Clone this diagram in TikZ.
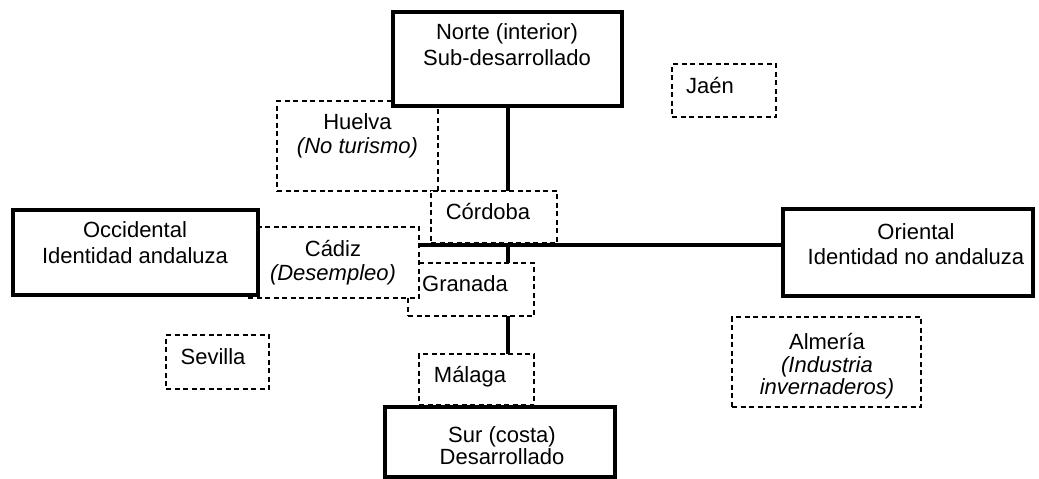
\documentclass[tikz,border=0pt]{standalone}
\usepackage{fontspec}
\setmainfont{Liberation Sans}
\usetikzlibrary{fit}
\pgfdeclarelayer{bg}
\pgfsetlayers{bg,main}
% stacked lines whose reference point is the first baseline
\newcommand{\stk}[1]{\begin{tabular}[t]{@{}c@{}}#1\end{tabular}}
\tikzset{
  region/.style={draw, line width=4pt, fill=white, inner sep=0pt},
  province/.style={draw, line width=1.4pt, dash pattern=on 5pt off 3.5pt, fill=white, inner sep=0pt},
  axis/.style={line width=4pt},
  txt/.style={font=\fontsize{22}{#1}\selectfont, anchor=base, inner sep=0pt},
  txt/.default=25
}
\begin{document}
\begin{tikzpicture}[x=1pt, y=-1pt]
\useasboundingbox (0,0) rectangle (1039,479);

% provinces (dashed boxes), later ones overlap earlier ones
\node[province, fit={(277,101) (438,191)}] (huelva) {};
\node[province, fit={(431,191) (557,243)}] (cordoba) {};
\node[province, fit={(408,263) (534,316)}] (granada) {};
\node[province, fit={(248,227) (419,298)}] (cadiz) {};
\node[province, fit={(419,354) (534,405)}] (malaga) {};
\node[province, fit={(672,64) (776,117)}] (jaen) {};
\node[province, fit={(166,335) (269,389)}] (sevilla) {};
\node[province, fit={(732,317) (921,407)}] (almeria) {};

% regions (thick boxes)
\node[region, fit={(393,12) (622,106)}] (norte) {};
\node[region, fit={(13,210) (258,295)}] (occ) {};
\node[region, fit={(783,209) (1033,296)}] (ori) {};
\node[region, fit={(385,407) (615,477)}] (sur) {};

% axes of the cross, behind every box
\coordinate (hub) at (507.5,245);
\begin{pgfonlayer}{bg}
\draw[axis] (norte.south) -- (norte.south |- sur.north);
\draw[axis] (occ.east |- hub) -- (ori.west |- hub);
\end{pgfonlayer}

% labels
\node[txt=26] (norte-t) at (507,39) {\stk{Norte (interior)\\Sub-desarrollado}};
\node[txt=26] (occ-t) at (135,237) {\stk{Occidental\\Identidad andaluza}};
\node[txt=25] (ori-t) at (916,239.5) {\stk{Oriental\\Identidad no andaluza}};
\node[txt=22] (sur-t) at (502,442) {\stk{Sur (costa)\\Desarrollado}};
\node[txt=24] (huelva-t) at (357.5,129) {\stk{Huelva\\\textit{(No turismo)}}};
\node[txt] (jaen-t) at (710,93) {Jaén};
\node[txt] (cordoba-t) at (488,219) {Córdoba};
\node[txt=24] (cadiz-t) at (333,256) {\stk{Cádiz\\\textit{(Desempleo)}}};
\node[txt] (granada-t) at (465,291) {Granada};
\node[txt] (malaga-t) at (470,382) {Málaga};
\node[txt] (sevilla-t) at (213,364) {Sevilla};
\node[txt=22] (almeria-t) at (827,349.5) {\stk{Almería\\\textit{(Industria}\\\textit{invernaderos)}}};
\end{tikzpicture}
\end{document}
